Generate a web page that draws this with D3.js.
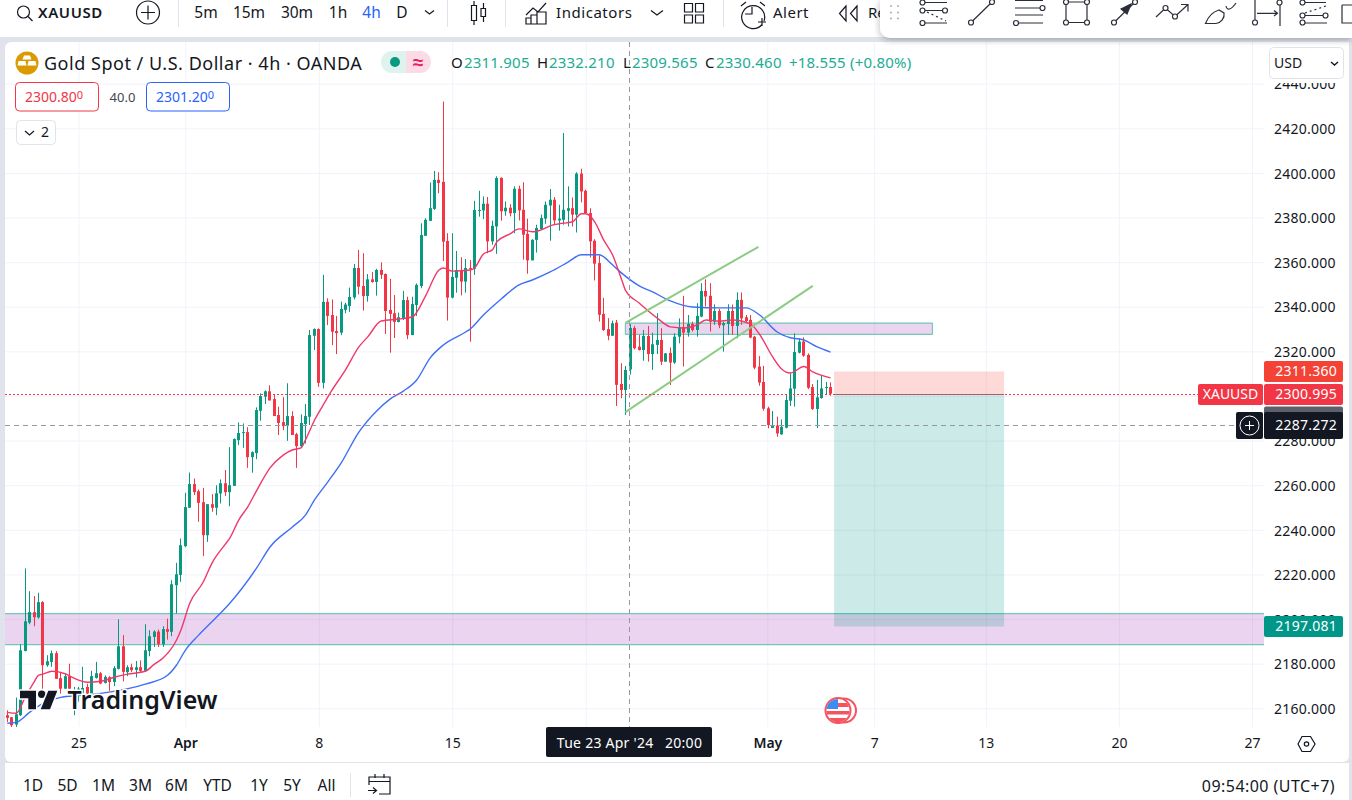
<!DOCTYPE html>
<html>
<head>
<meta charset="utf-8">
<title>XAUUSD 4h</title>
<script src="https://cdnjs.cloudflare.com/ajax/libs/d3/7.8.5/d3.min.js"></script>
<style>
  html, body { margin: 0; padding: 0; background: #e0e3eb; overflow: hidden; }
  svg { display: block; }
  text { font-family: "Noto Sans", sans-serif; }
</style>
</head>
<body>
<div id="chart"></div>
<script>
// Candle data, one entry per 4h bar
var opens = [
  2156.9,2156,2152.7,2156.9,2185.7,2198.4,2203.1,2200.7,2207.6,2179.3,
  2180.8,2184.7,2173.5,2168.8,2174.4,2162,2166.6,2166.6,2169.6,2166.6,
  2173.6,2175.7,2171.4,2173.9,2171.8,2177.7,2187.8,2176.2,2178.4,2177.2,
  2178.4,2176.8,2185.7,2192,2194.4,2188.7,2195.5,2194.3,2215.2,2219.8,
  2232.7,2249.9,2260.5,2257.3,2252.4,2237.6,2251.5,2249.9,2256.3,2260.9,
  2256.9,2259.7,2280.2,2283.5,2283.8,2272.6,2274.4,2293.4,2299.7,2302.1,
  2298.6,2291.5,2288.3,2286.5,2291,2282.9,2277.5,2287.4,2290.7,2327,
  2330,2305.9,2342.2,2336.3,2329.1,2328.4,2338.6,2340.3,2344.2,2357.4,
  2349.3,2344.8,2352.3,2351.1,2356.5,2354.7,2338.6,2337.1,2333.2,2334.7,
  2343,2327.3,2340.8,2349.3,2371.8,2378.5,2383.9,2396.9,2396,2369.5,
  2344.1,2353,2356.5,2351.3,2357.4,2357,2383,2383.2,2386.2,2369.3,
  2376,2397.8,2382.8,2384.4,2382,2392.9,2383.5,2372.7,2360.8,2370,
  2374.8,2379.5,2385.4,2388,2378.7,2379,2383,2384.2,2381.3,2399.7,
  2392,2382,2369.6,2359.6,2336.8,2330,2327,2332.9,2305.4,2302.7,
  2311.9,2330.5,2322.1,2320.6,2326.9,2318.8,2322.9,2325.1,2315.4,2319.3,
  2315,2326.6,2330.8,2328.4,2332.3,2329.6,2335.6,2347.1,2344.9,2333.3,
  2338.1,2331.7,2332.3,2338.1,2331.4,2343.1,2335.3,2334.1,2326.6,2313.2,
  2306.3,2294.5,2285.7,2286.8,2282.8,2285.8,2297.9,2303.3,2319.4,2324.4,
  2318.4,2304,2294.2,2299.1,2303.7,2304
];
var highs = [
  2159.1,2156.1,2164.8,2188.7,2222.7,2212.5,2210.3,2211.8,2208,2183.8,
  2185.9,2185.6,2176.3,2175.6,2180,2169.6,2169.6,2178.6,2171,2176.8,
  2180.8,2176.3,2174.8,2174.4,2178.9,2199.9,2192.8,2179.3,2180,2181.2,
  2181.5,2197.7,2195,2195,2195.3,2196.8,2200.2,2217.4,2225.2,2236.1,
  2256.6,2265.7,2263,2258.1,2258.8,2251.5,2256,2260,2262.6,2266.8,
  2277.1,2281,2288.2,2287.7,2286,2275.2,2294.9,2301.2,2302.5,2304.8,
  2300.4,2295.2,2299.5,2305.7,2293.2,2283.5,2291.8,2296.4,2329.6,2330.3,
  2330.3,2354.3,2343.8,2343.3,2335.9,2342.3,2341.8,2348.6,2359.2,2365.5,
  2364,2354.7,2355.6,2357,2359.9,2354.9,2352.5,2345.3,2337.4,2347.1,
  2344.5,2344.5,2350.5,2377.4,2379.7,2395.7,2400.9,2400.3,2432,2373,
  2373,2365,2362.2,2361.4,2361,2387.5,2392,2389.5,2389.2,2378.6,
  2398.5,2398,2387.2,2386,2394,2394.3,2395.8,2379.5,2370.3,2376.8,
  2381.3,2387.2,2392.8,2389.2,2385.7,2417.9,2394,2389,2400.3,2401.9,
  2392.5,2384.2,2370.3,2363,2344,2334.9,2333.8,2334.1,2314.7,2313.5,
  2332.2,2331.4,2327.4,2329.6,2331.4,2328.4,2337.1,2330.4,2319.3,2321.8,
  2328.1,2334.8,2344.9,2336.3,2333.3,2341.6,2350.6,2352.3,2350.6,2341.1,
  2339,2333.3,2341.1,2341,2346.5,2346.4,2336.3,2336.3,2327,2317.9,
  2313.5,2295.2,2293.3,2290.7,2289.5,2300.4,2310.2,2328.1,2325.9,2326.3,
  2319.1,2305.4,2307.2,2309.4,2306.3,2306.1
];
var lows = [
  2153.9,2151.6,2151.6,2156.5,2185.5,2197.7,2196.8,2200.2,2168.8,2178.6,
  2178.6,2173.2,2166.6,2168.8,2168.8,2156.9,2163,2165,2165.1,2166.3,
  2173.3,2170.8,2171.1,2167.8,2169.9,2177.4,2172.1,2174.4,2176.3,2173.8,
  2176,2176.6,2183.3,2187.5,2187.5,2187.5,2190.8,2192.3,2202.5,2216.7,
  2232.2,2249.9,2255.6,2243.6,2228.2,2234.6,2248.1,2246.6,2251.8,2255.2,
  2250.6,2259.7,2278,2276.8,2267.8,2265.6,2271.7,2288.9,2296.4,2298,
  2291,2282.5,2284.7,2279.9,2282.5,2267.8,2276.9,2278.7,2287,2320.6,
  2304.1,2303.4,2331.8,2322.8,2318.8,2327.3,2337.1,2337.7,2343.3,2345.6,
  2338.3,2342.3,2350.8,2345,2352.5,2327.8,2319.4,2326,2333,2334.1,
  2325.5,2327.3,2335.9,2348.3,2371.8,2378.5,2383.4,2390.9,2360.5,2333.8,
  2343.8,2346.3,2345.1,2346.3,2324.3,2354.3,2380.4,2379.3,2364,2367.8,
  2363.7,2378.6,2380.8,2380.5,2373,2378.7,2361.1,2354.8,2360.8,2364.3,
  2374.5,2377.2,2369.6,2376.8,2374.1,2376.8,2376,2376,2373.3,2386.8,
  2382,2362.1,2351.8,2333.4,2329.2,2325,2327,2295.5,2299,2291.5,
  2309.6,2320.9,2320.4,2315.8,2315.4,2311.7,2318.8,2313.9,2315.4,2304.9,
  2314.4,2323.6,2313.2,2326.6,2328.9,2326.6,2335.3,2340.1,2328.9,2331.9,
  2330.4,2319.9,2327.4,2327.4,2325.9,2331.9,2332.9,2325.9,2312,2304.6,
  2293.4,2285.5,2285.6,2281.7,2282.6,2285.5,2295.5,2295.2,2319.1,2317.6,
  2303.1,2293.7,2285.6,2298.8,2300.4,2300.1
];
var closes = [
  2155.7,2152.4,2157.3,2186,2199,2203.1,2200.8,2207.6,2179.3,2181.1,
  2184.7,2173.2,2168.8,2174.4,2168.8,2166,2168.8,2169.1,2166.6,2174.4,
  2175.7,2171.1,2174.1,2171.8,2178,2187.8,2176.3,2178.4,2177.1,2178.4,
  2176.8,2186,2192.3,2194.4,2188.7,2195.5,2194.3,2215.6,2220.1,2233.1,
  2250.2,2260.5,2256.9,2252.1,2237.6,2251.5,2249.9,2256.4,2260.9,2256.9,
  2260,2280.7,2283.4,2283.8,2272.6,2274.8,2293.7,2300,2302.1,2298,
  2291,2287.9,2286.5,2291,2282.5,2277.5,2287.9,2291,2327.3,2330,
  2305.9,2342.2,2335.9,2328.8,2328.2,2339,2341,2344.4,2357.4,2349,
  2344.8,2352.3,2351.1,2356.5,2354.3,2338.1,2336.8,2333.2,2335.3,2343,
  2327.3,2341.2,2349.8,2372.2,2379,2384.2,2396.9,2395.5,2369.2,2344.1,
  2353.4,2356.5,2351.3,2357.4,2357,2383.4,2383.4,2386.2,2369.3,2376.3,
  2397.7,2382.8,2384.4,2381.9,2392.9,2383.2,2372.3,2360.8,2370,2375.3,
  2379.8,2385.7,2388,2378.7,2379.5,2383.5,2384.2,2381.3,2399.7,2391.7,
  2382,2369.3,2359.3,2336.4,2329.6,2327,2332.6,2305,2302.7,2311.7,
  2330.5,2321.4,2320.6,2326.9,2318.8,2323.2,2325.1,2315.4,2319.1,2315,
  2326.6,2330.8,2328.4,2332.3,2329.6,2335.9,2347.1,2344.6,2333.3,2338.1,
  2331.7,2332.6,2338.1,2331.4,2343.1,2334.8,2333.6,2326.2,2312.7,2306,
  2294.3,2287,2287,2283.2,2286.2,2298.2,2303.4,2319.7,2324.4,2318.1,
  2303.7,2294.2,2299.4,2303.4,2304,2300.995
];

// Moving averages, sampled at the bars where they were read
var redMaBars = [0,2,4,6,7,8,10,13,15,18,21,24,27,31,33,35,38,39,41,44,46,49,50,52,54,56,59,62,64,66,67,69,71,73,76,79,81,84,88,91,94,97,98,100,104,105,107,109,110,113,115,118,120,122,124,127,129,130,132,134,136,138,139,142,146,149,152,155,157,160,163,167,169,172,174,176,179,181,185];
var redMaValues = [2158.2,2157.8,2164.9,2171.7,2174.8,2175.3,2176.6,2175.5,2173.5,2171.7,2172.1,2173.9,2175.3,2176.6,2179.7,2182.5,2190.5,2195,2207.1,2216.5,2225.1,2233.6,2236.3,2244.4,2250.2,2257.5,2267.7,2273.5,2275.8,2276.7,2280.3,2289,2296,2302.7,2311.7,2322,2326.5,2333.6,2334.5,2335.4,2344.9,2356.5,2357.4,2356,2356.5,2357.4,2363.7,2365.5,2369.1,2372.7,2374.9,2373.6,2374.5,2376.3,2377.2,2378.1,2381.7,2381.7,2378.1,2370,2363.3,2352.5,2347.1,2341.7,2335,2331,2330.5,2331.9,2334.1,2333.6,2334.1,2332.3,2327.8,2317.5,2312.1,2310.3,2313.2,2310.8,2308.1];
var blueMaBars = [0,2,5,8,12,16,21,31,36,38,40,43,47,50,56,59,64,67,69,72,75,79,83,86,89,92,95,98,103,104,107,111,115,118,122,126,129,133,136,138,142,145,149,154,160,166,169,173,176,179,182,185];
var blueMaValues = [2153.3,2153.7,2158.2,2162.2,2164.9,2165.7,2166.7,2170.8,2174.8,2179.3,2186,2192.8,2200.8,2207.1,2222.8,2232.2,2241.2,2246.6,2253.3,2261.4,2269.9,2283.8,2293.3,2298.6,2302.2,2307.2,2317,2322.9,2328.7,2330,2336.3,2343.5,2349.8,2352,2355.6,2360,2363.3,2363.3,2358.8,2355.2,2349.4,2346.7,2342.6,2339.9,2339.5,2339.5,2336.4,2328.7,2326.1,2325.1,2322,2319.7];

// Axis ticks
var priceTicks = [2160,2180,2200,2220,2240,2260,2280,2300,2320,2340,2360,2380,2400,2420,2440];
var timeTickBars = [16,40,70,100,130,170.8,194.8,219.9,249.8,279.7];
var timeTickLabels = ["25","Apr","8","15","22","May","7","13","20","27"];

// Drawings on the chart
var wideZonePrices = [2188.5,2202.4];
var smallZoneBars = [138.9,207.9];
var smallZonePrices = [2327.6,2332.7];
var upperChannelBars = [138.9,168.8];
var upperChannelPrices = [2332.8,2366.9];
var lowerChannelBars = [138.9,181];
var lowerChannelPrices = [2292.8,2349.4];
var positionBars = [185.8,224];
var stopPrice = 2311.36;
var entryPrice = 2300.995;
var targetPrice = 2197.081;
var crosshairBar = 139.9;
var crosshairPrice = 2287.272;
var greyLabelPrice = 2290.717;

// Toolbar texts
var timeframes = ["5m","15m","30m","1h","4h","D"];
var timeframeX = [206,249,297,338,371.5,402];
var ranges = ["1D","5D","1M","3M","6M","YTD","1Y","5Y","All"];
var rangeX = [33,67.5,103.5,140.5,176.5,217.5,259,292,326.5];

var green = "#089981", red = "#f23645", ink = "#131722", blue = "#2962ff", teal = "#22ab94";

var svgWidth = 1352;
var svgHeight = 800;
var plot = { left: 5, right: 1264, top: 42, bottom: 727 };

var svg = d3.select("#chart").append("svg")
  .attr("width", svgWidth)
  .attr("height", svgHeight);

// Scales: bar number to x, price to y
var x = d3.scaleLinear().domain([0, 185]).range([7.3, 830.55]);
var y = d3.scaleLinear().domain([2160, 2440]).range([708.3, 83.7]);

// Lines and tags sit on a whole pixel row
function snapY(price) { return Math.ceil(y(price)) + 0.5; }

// Panels
svg.append("rect").attr("width", svgWidth).attr("height", 37).attr("fill", "#fff");
svg.append("rect").attr("x", 5).attr("y", 42).attr("width", 1344).attr("height", 720)
  .attr("rx", 6).attr("fill", "#fff");
svg.append("rect").attr("x", 5).attr("y", 763).attr("width", 1344).attr("height", 37).attr("fill", "#fff");

var defs = svg.append("defs");
defs.append("clipPath").attr("id", "plot-clip").append("rect")
  .attr("x", plot.left).attr("y", plot.top)
  .attr("width", plot.right - plot.left).attr("height", plot.bottom - plot.top);
var shadow = defs.append("filter").attr("id", "bar-shadow")
  .attr("x", "-5%").attr("y", "-30%").attr("width", "110%").attr("height", "170%");
shadow.append("feDropShadow").attr("dx", 0).attr("dy", 2).attr("stdDeviation", 3)
  .attr("flood-color", "#2a2e39").attr("flood-opacity", 0.35);

// Gridlines
var grid = svg.append("g").attr("clip-path", "url(#plot-clip)");
grid.append("g")
  .attr("transform", "translate(" + plot.left + ",0)")
  .call(d3.axisRight(y).tickValues(priceTicks).tickSize(plot.right - plot.left).tickFormat(""))
  .call(function (g) { g.select(".domain").remove(); })
  .selectAll("line").attr("stroke", "#f0f3fa");
grid.append("g")
  .attr("transform", "translate(0," + plot.top + ")")
  .call(d3.axisBottom(x).tickValues(timeTickBars).tickSize(plot.bottom - plot.top).tickFormat(""))
  .call(function (g) { g.select(".domain").remove(); })
  .selectAll("line").attr("stroke", "#f0f3fa");

var chart = svg.append("g").attr("clip-path", "url(#plot-clip)");

// Purple zones sit behind the candles
function zone(x0, x1, p0, p1, leftEdge) {
  chart.append("rect")
    .attr("x", x0).attr("width", x1 - x0)
    .attr("y", y(p1)).attr("height", y(p0) - y(p1))
    .attr("fill", "#9c27b0").attr("fill-opacity", 0.2);
  [p0, p1].forEach(function (p) {
    chart.append("line").attr("x1", x0).attr("x2", x1)
      .attr("y1", y(p)).attr("y2", y(p))
      .attr("stroke", "#74c6b8").attr("stroke-width", 1.2);
  });
  if (leftEdge) {
    [x0, x1].forEach(function (v) {
      chart.append("line").attr("x1", v).attr("x2", v)
        .attr("y1", y(p0)).attr("y2", y(p1))
        .attr("stroke", "#74c6b8").attr("stroke-width", 1.2);
    });
  }
}
zone(plot.left, plot.right, wideZonePrices[0], wideZonePrices[1], false);
zone(x(smallZoneBars[0]), x(smallZoneBars[1]), smallZonePrices[0], smallZonePrices[1], true);

// Short position box
var posX = x(positionBars[0]);
var posW = x(positionBars[1]) - posX;
chart.append("rect").attr("x", posX).attr("width", posW)
  .attr("y", snapY(stopPrice)).attr("height", snapY(entryPrice) - snapY(stopPrice))
  .attr("fill", "#f44336").attr("fill-opacity", 0.2);
chart.append("rect").attr("x", posX).attr("width", posW)
  .attr("y", snapY(entryPrice)).attr("height", snapY(targetPrice) - snapY(entryPrice))
  .attr("fill", "#009688").attr("fill-opacity", 0.2);
chart.append("line").attr("x1", posX).attr("x2", posX + posW)
  .attr("y1", snapY(entryPrice)).attr("y2", snapY(entryPrice))
  .attr("stroke", "#787b86").attr("stroke-width", 1);

// Candles
var bars = d3.range(opens.length);
chart.append("g").selectAll("line").data(bars).enter().append("line")
  .attr("x1", function (i) { return Math.floor(x(i)) + 0.5; })
  .attr("x2", function (i) { return Math.floor(x(i)) + 0.5; })
  .attr("y1", function (i) { return y(highs[i]); })
  .attr("y2", function (i) { return y(lows[i]); })
  .attr("stroke", function (i) { return closes[i] >= opens[i] ? green : red; });
chart.append("g").selectAll("rect").data(bars).enter().append("rect")
  .attr("x", function (i) { return Math.floor(x(i)) - 1; })
  .attr("width", 3)
  .attr("y", function (i) { return y(Math.max(opens[i], closes[i])); })
  .attr("height", function (i) { return Math.max(1, Math.abs(y(opens[i]) - y(closes[i]))); })
  .attr("fill", function (i) { return closes[i] >= opens[i] ? green : red; });

// Moving averages
function maLine(barList, values, color) {
  var line = d3.line()
    .x(function (b) { return x(b); })
    .y(function (b, i) { return y(values[i]); })
    .curve(d3.curveMonotoneX);
  chart.append("path").datum(barList)
    .attr("d", line)
    .attr("fill", "none")
    .attr("stroke", color)
    .attr("stroke-width", 1.4);
}
maLine(blueMaBars, blueMaValues, "#3f6ff5");
maLine(redMaBars, redMaValues, "#f0386b");

// Rising channel
function channel(barList, prices) {
  chart.append("line")
    .attr("x1", x(barList[0])).attr("y1", y(prices[0]))
    .attr("x2", x(barList[1])).attr("y2", y(prices[1]))
    .attr("stroke", "#8ccb84").attr("stroke-width", 2);
}
channel(upperChannelBars, upperChannelPrices);
channel(lowerChannelBars, lowerChannelPrices);

// Last price and crosshair
chart.append("line").attr("x1", plot.left).attr("x2", 1198)
  .attr("y1", snapY(entryPrice)).attr("y2", snapY(entryPrice))
  .attr("stroke", red).attr("stroke-dasharray", "2 2");
chart.append("line").attr("x1", plot.left).attr("x2", 1236)
  .attr("y1", snapY(crosshairPrice)).attr("y2", snapY(crosshairPrice))
  .attr("stroke", "#9598a1").attr("stroke-dasharray", "5 4");
chart.append("line")
  .attr("x1", Math.floor(x(crosshairBar)) + 0.5).attr("x2", Math.floor(x(crosshairBar)) + 0.5)
  .attr("y1", plot.top).attr("y2", plot.bottom)
  .attr("stroke", "#9598a1").attr("stroke-dasharray", "5 4");

// Watermark logo
var logo = svg.append("g");
logo.append("path")
  .attr("d", "M20 690.7H36V709.3H28.3V698.3H20Z")
  .attr("fill", ink).attr("stroke", "#fff").attr("stroke-width", 3).attr("paint-order", "stroke");
logo.append("circle").attr("cx", 41.7).attr("cy", 694.3).attr("r", 3.7)
  .attr("fill", ink).attr("stroke", "#fff").attr("stroke-width", 3).attr("paint-order", "stroke");
logo.append("path")
  .attr("d", "M48.3 690.7H57.3L50 709.3H40.7Z")
  .attr("fill", ink).attr("stroke", "#fff").attr("stroke-width", 3).attr("paint-order", "stroke");
logo.append("text").attr("x", 67.5).attr("y", 709)
  .attr("font-size", 25).attr("font-weight", 600).attr("fill", ink)
  .attr("stroke", "#fff").attr("stroke-width", 3).attr("paint-order", "stroke")
  .text("TradingView");

// US flag event marker
var flag = svg.append("g");
defs.append("clipPath").attr("id", "flag-clip").append("circle")
  .attr("cx", 838).attr("cy", 710.5).attr("r", 11.5);
flag.append("circle").attr("cx", 844).attr("cy", 710.5).attr("r", 12)
  .attr("fill", "#fff").attr("stroke", "#f7525f").attr("stroke-width", 2);
flag.append("circle").attr("cx", 838).attr("cy", 710.5).attr("r", 12.5)
  .attr("fill", "#fff").attr("stroke", "#f7525f").attr("stroke-width", 2);
var flagInner = flag.append("g").attr("clip-path", "url(#flag-clip)");
flagInner.append("rect").attr("x", 838).attr("y", 703).attr("width", 12).attr("height", 4).attr("fill", "#f7525f");
flagInner.append("rect").attr("x", 826).attr("y", 711).attr("width", 24).attr("height", 3.5).attr("fill", "#f7525f");
flagInner.append("rect").attr("x", 826).attr("y", 718).attr("width", 24).attr("height", 5).attr("fill", "#f7525f");
flagInner.append("rect").attr("x", 826).attr("y", 699).attr("width", 12).attr("height", 10).attr("fill", "#3b8ef0");

// Price axis
var priceAxis = svg.append("g")
  .attr("transform", "translate(1264,0.7)")
  .call(d3.axisRight(y).tickValues(priceTicks).tickSize(0).tickPadding(10)
    .tickFormat(function (d) { return d.toFixed(3); }));
priceAxis.select(".domain").remove();
priceAxis.selectAll("text")
  .attr("font-size", 14).attr("fill", ink).attr("letter-spacing", 0.25)
  .style("font-family", "'Noto Sans', sans-serif");

// Price tags on the axis
function priceTag(price, fill, x0, w, h, label) {
  var cy = snapY(price);
  svg.append("rect").attr("x", x0).attr("y", cy - h / 2).attr("width", w).attr("height", h)
    .attr("rx", 2).attr("fill", fill);
  if (label) {
    svg.append("text").attr("x", x0 + w - 6).attr("y", cy)
      .attr("dy", "0.35em").attr("text-anchor", "end").attr("letter-spacing", 0.25)
      .attr("font-size", 14).attr("fill", "#fff").text(label);
  }
}
priceTag(targetPrice, "#009688", 1264, 79, 21, "2197.081");
priceTag(stopPrice, "#f44336", 1264, 79, 21, "2311.360");
priceTag(greyLabelPrice, "#5d606b", 1264, 79, 22, "2290.717");
priceTag(entryPrice, red, 1264, 79, 21, "2300.995");
svg.append("rect").attr("x", 1198).attr("y", snapY(entryPrice) - 10.5).attr("width", 65).attr("height", 21)
  .attr("rx", 2).attr("fill", red);
svg.append("text").attr("x", 1230.5).attr("y", snapY(entryPrice)).attr("dy", "0.35em")
  .attr("text-anchor", "middle").attr("font-size", 14).attr("fill", "#fff").text("XAUUSD");
priceTag(crosshairPrice, ink, 1264, 79, 27, "2287.272");
var crossY = snapY(crosshairPrice);
svg.append("rect").attr("x", 1236).attr("y", crossY - 13.5).attr("width", 27).attr("height", 27)
  .attr("rx", 2).attr("fill", ink);
svg.append("circle").attr("cx", 1249.5).attr("cy", crossY).attr("r", 9.5)
  .attr("fill", "none").attr("stroke", "#fff");
svg.append("path")
  .attr("d", "M1245 " + crossY + "H1254M1249.5 " + (crossY - 4.5) + "V" + (crossY + 4.5))
  .attr("stroke", "#fff").attr("fill", "none");

// Time axis
var timeAxis = svg.append("g")
  .attr("transform", "translate(0,738.5)")
  .call(d3.axisBottom(x).tickValues(timeTickBars).tickSize(0).tickPadding(0)
    .tickFormat(function (d, i) { return timeTickLabels[i]; }));
timeAxis.select(".domain").remove();
timeAxis.selectAll("text")
  .attr("font-size", 14).attr("fill", ink)
  .attr("font-weight", function (d, i) { return timeTickLabels[i] === "Apr" || timeTickLabels[i] === "May" ? 600 : 400; })
  .style("font-family", "'Noto Sans', sans-serif");

svg.append("rect").attr("x", 546).attr("y", 727).attr("width", 166).attr("height", 30)
  .attr("rx", 2).attr("fill", ink);
svg.append("text").attr("x", 629.5).attr("y", 743.5).attr("dy", "0.35em")
  .attr("text-anchor", "middle").attr("font-size", 14).attr("letter-spacing", 0.25).attr("fill", "#fff")
  .attr("xml:space", "preserve").text("Tue 23 Apr '24   20:00");

// Settings hexagon
svg.append("path").attr("d", "M1298 744L1302 736.5H1310.5L1315 744L1310.5 751.5H1302Z")
  .attr("fill", "none").attr("stroke", ink).attr("stroke-width", 1.2);
svg.append("circle").attr("cx", 1306.5).attr("cy", 744).attr("r", 2.2)
  .attr("fill", "none").attr("stroke", ink).attr("stroke-width", 1.2);

// Legend row
svg.append("circle").attr("cx", 27).attr("cy", 63).attr("r", 11.5).attr("fill", "#da9a00");
svg.append("path")
  .attr("d", "M24 55.5H30L31.5 59.5H22.5ZM18.5 61H25.5L26.5 65.5H17.5ZM28.5 61H35.5L36.5 65.5H27.5Z")
  .attr("fill", "#fff");
svg.append("text").attr("x", 44).attr("y", 63.5).attr("dy", "0.35em")
  .attr("font-size", 18).attr("letter-spacing", 0.52).attr("fill", ink)
  .text("Gold Spot / U.S. Dollar · 4h · OANDA");

svg.append("path").attr("d", "M406 51H392A11 11 0 0 0 392 73H406Z").attr("fill", "#dff2ee");
svg.append("path").attr("d", "M406 51H420A11 11 0 0 1 420 73H406Z").attr("fill", "#fbdbe5");
svg.append("circle").attr("cx", 395).attr("cy", 62).attr("r", 5).attr("fill", green);
svg.append("text").attr("x", 418).attr("y", 62).attr("dy", "0.35em").attr("text-anchor", "middle")
  .attr("font-size", 19).attr("font-weight", 600).attr("fill", "#e91e63").text("≈");

var ohlcLetters = [["O", 451], ["H", 537], ["L", 623], ["C", 705]];
ohlcLetters.forEach(function (d) {
  svg.append("text").attr("x", d[1]).attr("y", 62.5).attr("dy", "0.35em")
    .attr("font-size", 15).attr("fill", ink).text(d[0]);
});
var ohlcValues = [["2311.905", 464], ["2332.210", 549], ["2309.565", 632], ["2330.460", 716], ["+18.555 (+0.80%)", 789]];
ohlcValues.forEach(function (d) {
  svg.append("text").attr("x", d[1]).attr("y", 62.5).attr("dy", "0.35em")
    .attr("font-size", 15).attr("letter-spacing", 0.2).attr("fill", teal).text(d[0]);
});

// Sell / buy boxes
function quoteBox(x0, color, price) {
  svg.append("rect").attr("x", x0 + 0.5).attr("y", 82.5).attr("width", 83).attr("height", 28.5)
    .attr("rx", 4).attr("fill", "#fff").attr("stroke", color);
  var t = svg.append("text").attr("x", x0 + 10).attr("y", 97).attr("dy", "0.35em")
    .attr("font-size", 14).attr("fill", color).text(price);
  t.append("tspan").attr("font-size", 11).attr("dy", "-0.3em").text("0");
}
quoteBox(15, red, "2300.80");
quoteBox(146, blue, "2301.20");
svg.append("text").attr("x", 122.5).attr("y", 97).attr("dy", "0.35em").attr("text-anchor", "middle")
  .attr("font-size", 13).attr("fill", "#434651").text("40.0");

// Collapsed indicators button
svg.append("rect").attr("x", 16.5).attr("y", 120.5).attr("width", 39).attr("height", 24)
  .attr("rx", 4).attr("fill", "#fff").attr("stroke", "#e0e3eb");
svg.append("path").attr("d", "M25 131L29.5 135L34 131").attr("fill", "none").attr("stroke", ink).attr("stroke-width", 1.2);
svg.append("text").attr("x", 45).attr("y", 132.5).attr("dy", "0.35em").attr("text-anchor", "middle")
  .attr("font-size", 14).attr("fill", ink).text("2");

// USD button, hides the top of the 2440 label
svg.append("rect").attr("x", 1264).attr("y", 42).attr("width", 85).attr("height", 41).attr("fill", "#fff");
svg.append("rect").attr("x", 1269.5).attr("y", 47.5).attr("width", 74).attr("height", 31)
  .attr("rx", 4).attr("fill", "#fff").attr("stroke", "#e0e3eb");
svg.append("text").attr("x", 1274).attr("y", 63.5).attr("dy", "0.35em")
  .attr("font-size", 14).attr("fill", ink).text("USD");
svg.append("path").attr("d", "M1331 62L1334.5 65L1338 62").attr("fill", "none").attr("stroke", ink).attr("stroke-width", 1.4);

// Top bar
var topIcons = svg.append("g").attr("fill", "none").attr("stroke", ink).attr("stroke-width", 1.2);
topIcons.append("circle").attr("cx", 23.5).attr("cy", 12).attr("r", 6);
topIcons.append("path").attr("d", "M28 16.5L32.5 21");
topIcons.append("circle").attr("cx", 148).attr("cy", 12.5).attr("r", 11.5);
topIcons.append("path").attr("d", "M141 12.5H155M148 5.5V19.5");
// candle style icon
topIcons.append("path").attr("d", "M471.5 5.5h5v15h-5zM474 1v4.5M474 20.5V25M481 8.5h4.5v8H481zM483.5 3v5.5M483.5 16.5V22");
// indicators icon
topIcons.append("path").attr("d", "M526 15L533 8L538 12L546 3M526 24V18H531V24ZM531 24V15H537V24ZM537 24V12H546V24Z");
topIcons.append("path").attr("d", "M651 10.5L657 15L663 10.5");
// layout icon
topIcons.append("path").attr("d", "M684.5 3.5h8v8.5h-8zM695.5 3.5h8v8.5h-8zM684.5 15h8v8h-8zM695.5 15h8v8h-8z");
// alert icon
topIcons.append("path").attr("d", "M762 24.5A11.5 11.5 0 1 1 764 21M752 7V14H745M758 22H766M762 18V26M741 6L746 2M760 2L765 6");
// rewind icon
topIcons.append("path").attr("d", "M846 6L839.5 13.5L846 21ZM857 6L850.5 13.5L857 21Z");
topIcons.append("path").attr("d", "M425 10.5L429.5 14L434 10.5");

[178.5, 447.5, 505.5, 723.5].forEach(function (sepX) {
  svg.append("line").attr("x1", sepX).attr("x2", sepX).attr("y1", 0).attr("y2", 27)
    .attr("stroke", "#e0e3eb");
});

svg.append("text").attr("x", 38).attr("y", 12.5).attr("dy", "0.35em")
  .attr("font-size", 15).attr("font-weight", 600).attr("letter-spacing", 0.6).attr("fill", ink).text("XAUUSD");
svg.append("g").selectAll("text").data(timeframes).enter().append("text")
  .attr("x", function (d, i) { return timeframeX[i]; })
  .attr("y", 12.5).attr("dy", "0.35em").attr("text-anchor", "middle")
  .attr("font-size", 15.5)
  .attr("fill", function (d) { return d === "4h" ? blue : ink; })
  .text(function (d) { return d; });
svg.append("text").attr("x", 556).attr("y", 12.5).attr("dy", "0.35em")
  .attr("font-size", 15).attr("letter-spacing", 0.55).attr("fill", ink).text("Indicators");
svg.append("text").attr("x", 773).attr("y", 12.5).attr("dy", "0.35em")
  .attr("font-size", 15).attr("letter-spacing", 0.5).attr("fill", ink).text("Alert");
svg.append("text").attr("x", 868).attr("y", 12.5).attr("dy", "0.35em")
  .attr("font-size", 15).attr("fill", ink).text("Replay");

// Thin strip at the right edge of the window
svg.append("rect").attr("x", 1349).attr("y", 37).attr("width", 3).attr("height", 763).attr("fill", "#e0e3eb");

// Floating drawing toolbar
var toolbarY = 38;
svg.append("path")
  .attr("d", "M880 0H1352V" + toolbarY + "H890A10 10 0 0 1 880 " + (toolbarY - 10) + "Z")
  .attr("fill", "#fff").attr("filter", "url(#bar-shadow)");
var dots = [[891, 6], [898, 6], [891, 12.5], [898, 12.5], [891, 18.5], [898, 18.5]];
svg.append("g").selectAll("circle").data(dots).enter().append("circle")
  .attr("cx", function (d) { return d[0]; }).attr("cy", function (d) { return d[1]; })
  .attr("r", 1.1).attr("fill", "#b2b5be");

var tools = svg.append("g").attr("fill", "none").attr("stroke", "#2a2e39").attr("stroke-width", 1.2);
function toolPath(d) { tools.append("path").attr("d", d); }
function toolDots(list) {
  list.forEach(function (p) {
    tools.append("circle").attr("cx", p[0]).attr("cy", p[1]).attr("r", 2.5).attr("fill", "#fff");
  });
}
toolPath("M925 2.5H947M925 10.5H945M925 23H947");
tools.append("path").attr("d", "M927 12L946 21").attr("stroke-dasharray", "2 3");
toolDots([[922.5, 2.5], [922.5, 10.5], [945, 10.5], [922.5, 23]]);

toolPath("M971 22.5L992 2");
toolDots([[971, 22.5], [992, 2]]);

toolPath("M1015 0.5H1043M1015 15H1043M1018 23H1043M1015 8H1040");
toolDots([[1042.5, 8], [1016, 23]]);

toolPath("M1066 2H1087V22.5H1066Z");
toolDots([[1066, 2], [1087, 2], [1066, 22.5], [1087, 22.5]]);

toolPath("M1114 22.5L1134 3");
tools.append("path").attr("d", "M1121 9L1131 4L1127 14Z").attr("fill", "#2a2e39");
toolDots([[1114, 22.5], [1135, 2]]);

toolPath("M1156 17L1165.5 8L1175 16.5L1187.5 5M1181 4.5H1188V11.5");
toolDots([[1165.5, 8], [1175, 16.5]]);

toolPath("M1205.5 23.5C1208 17 1212 12 1219 10L1224 13C1225 18 1221 23 1216 23.5ZM1226 6C1227 11 1231 10 1236 3");

toolPath("M1255 0V20M1280 5V26M1257 13.3H1277M1274 10.5L1277.5 13.3L1274 16");
toolDots([[1255, 22.5], [1279.5, 2.5]]);

toolPath("M1302 2.5H1326M1302 15.5H1328M1302 23H1327");
tools.append("path").attr("d", "M1305 13L1326 6").attr("stroke-dasharray", "2 3");
toolDots([[1302.5, 2.5], [1302.5, 15.5], [1325.5, 15.5], [1302.5, 22.5]]);

toolPath("M1342 5V23H1352M1342 5H1352");

// Bottom bar
svg.append("rect").attr("y", 762).attr("x", 5).attr("width", 1344).attr("height", 1).attr("fill", "#e0e3eb");
svg.append("g").selectAll("text").data(ranges).enter().append("text")
  .attr("x", function (d, i) { return rangeX[i]; })
  .attr("y", 786).attr("dy", "0.35em").attr("text-anchor", "middle")
  .attr("font-size", 15.5).attr("fill", ink)
  .text(function (d) { return d; });
svg.append("line").attr("x1", 350.5).attr("x2", 350.5).attr("y1", 773).attr("y2", 797).attr("stroke", "#e0e3eb");
svg.append("path")
  .attr("d", "M369 785V777H390V794H379M369 781.5H390M375 774V778M384 774V778M368 790.5H376M373 787.5L376.5 790.5L373 793.5")
  .attr("fill", "none").attr("stroke", ink).attr("stroke-width", 1.2);
svg.append("text").attr("x", 1335).attr("y", 786).attr("dy", "0.35em").attr("text-anchor", "end")
  .attr("font-size", 16).attr("letter-spacing", 0.45).attr("fill", ink).text("09:54:00 (UTC+7)");
</script>
</body>
</html>
